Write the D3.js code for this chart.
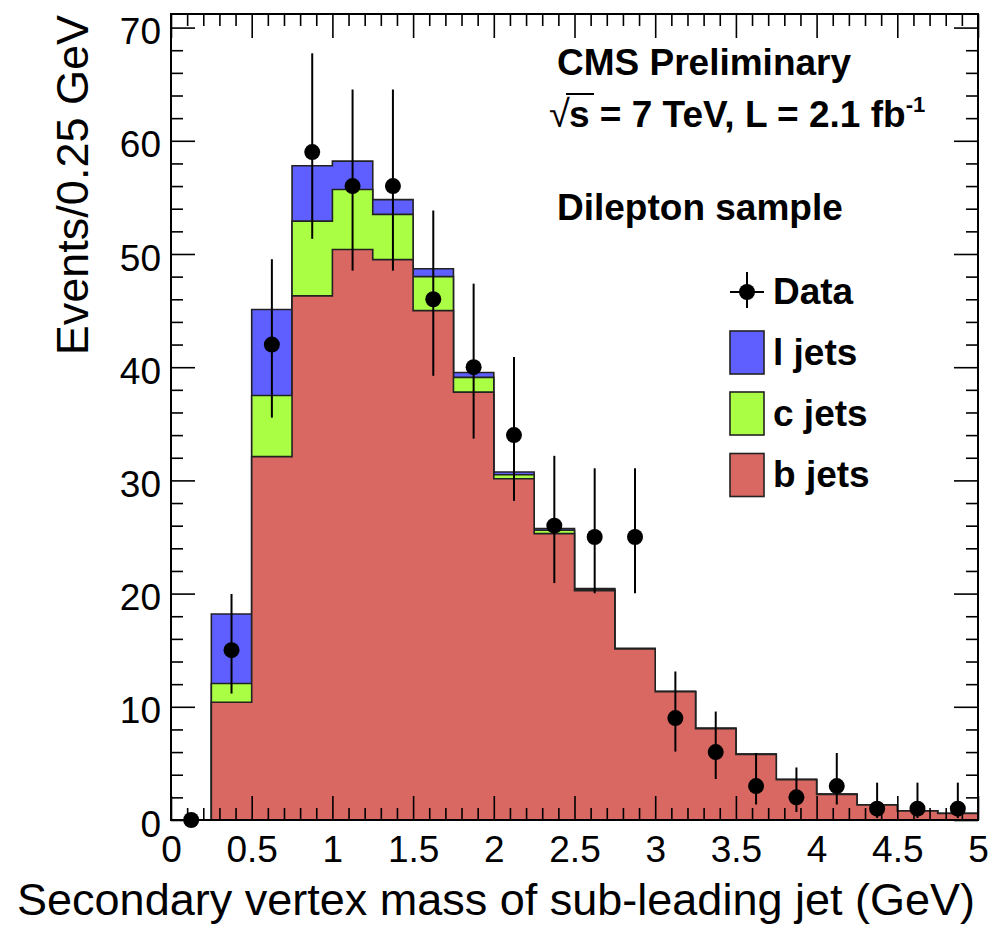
<!DOCTYPE html>
<html>
<head>
<meta charset="utf-8">
<script src="https://cdn.jsdelivr.net/npm/d3@7/dist/d3.min.js"></script>
<style>
  html, body { margin: 0; padding: 0; background: #fff; }
  svg { display: block; }
  text { font-family: "Liberation Sans", Arial, Helvetica, sans-serif; fill: #000; }
</style>
</head>
<body>
<svg id="chart" width="991" height="928"></svg>
<script>
// ---------- data ----------
const binLeftEdges = [0, 0.25, 0.5, 0.75, 1.0, 1.25, 1.5, 1.75, 2.0, 2.25,
                      2.5, 2.75, 3.0, 3.25, 3.5, 3.75, 4.0, 4.25, 4.5, 4.75];
const binWidth = 0.25;
const binCenters = [0.125, 0.375, 0.625, 0.875, 1.125, 1.375, 1.625, 1.875, 2.125, 2.375,
                    2.625, 2.875, 3.125, 3.375, 3.625, 3.875, 4.125, 4.375, 4.625, 4.875];

const bJets = [0, 10.4, 32.1, 46.3, 50.4, 49.5, 45.0, 37.8, 30.15, 25.3,
               20.25, 15.1, 11.33, 8.07, 5.8, 3.56, 2.26, 1.32, 0.8, 0.57];
const cJets = [0, 1.66, 5.4, 6.6, 5.3, 4.0, 3.0, 1.3, 0.35, 0.3,
               0.1, 0.03, 0.02, 0.02, 0.01, 0.01, 0.01, 0.01, 0.01, 0.01];
const lJets = [0, 6.14, 7.6, 4.9, 2.5, 1.3, 0.7, 0.43, 0.24, 0.14,
               0.1, 0.04, 0.03, 0.02, 0.02, 0.02, 0.02, 0.01, 0.01, 0.01];

const dataCounts = [0, 15, 42, 59, 56, 56, 46, 40, 34, 26,
                    25, 25, 9, 6, 3, 2, 3, 1, 1, 1];
const dataErrLow = [0, 11.17, 35.54, 51.34, 48.53, 48.53, 39.24, 33.69, 28.19, 20.93,
                    20.03, 20.03, 6.04, 3.62, 1.37, 0.71, 1.37, 0.17, 0.17, 0.17];
const dataErrHigh = [0, 19.97, 49.54, 67.73, 64.53, 64.53, 53.84, 47.38, 40.90, 32.17,
                     31.07, 31.07, 13.12, 9.58, 5.92, 4.64, 5.92, 3.30, 3.30, 3.30];

const xTickValues = [0, 0.5, 1, 1.5, 2, 2.5, 3, 3.5, 4, 4.5, 5];
const xTickLabels = ["0", "0.5", "1", "1.5", "2", "2.5", "3", "3.5", "4", "4.5", "5"];
const yTickValues = [0, 10, 20, 30, 40, 50, 60, 70];
const yTickLabels = ["0", "10", "20", "30", "40", "50", "60", "70"];

const legendLabels = ["Data", "l jets", "c jets", "b jets"];
const xTitle = "Secondary vertex mass of sub-leading jet (GeV)";
const yTitle = "Events/0.25 GeV";

// ---------- layout ----------
const X0 = 171, X1 = 978, Y0 = 820, YT = 14;
const colors = { l: "#5f5fff", c: "#aaff44", b: "#d96862" };
const outline = "#222";

const svg = d3.select("#chart");
const x = d3.scaleLinear().domain([0, 5]).range([X0, X1]);
const y = d3.scaleLinear().domain([0, 71.2]).range([Y0, YT]);

// stacked totals
const stackB = bJets.slice();
const stackC = bJets.map((v, i) => v + cJets[i]);
const stackL = bJets.map((v, i) => v + cJets[i] + lJets[i]);

function stepPoints(vals) {
  const pts = binLeftEdges.map((e, i) => ({ x: e, v: vals[i] }));
  pts.push({ x: binLeftEdges[binLeftEdges.length - 1] + binWidth, v: vals[vals.length - 1] });
  return pts;
}
const area = d3.area()
  .curve(d3.curveStepAfter)
  .x(d => x(d.x))
  .y0(y(0))
  .y1(d => y(d.v));

const histG = svg.append("g");
[[stackL, colors.l], [stackC, colors.c], [stackB, colors.b]].forEach(([vals, col]) => {
  histG.append("path")
    .datum(stepPoints(vals))
    .attr("d", area)
    .attr("fill", col)
    .attr("stroke", outline)
    .attr("stroke-width", 1.6)
    .attr("stroke-linejoin", "miter");
});

// ---------- axes (ticks inside the frame, on all four sides) ----------
const xMinor = d3.range(0, 51).map(i => i / 10).filter(v => !xTickValues.some(t => Math.abs(t - v) < 1e-9));
const yMinor = d3.range(0, 36).map(i => i * 2).filter(v => v % 10 !== 0 && v <= 71);

function styleAxis(g) {
  g.select(".domain").remove();
  g.selectAll(".tick line").attr("stroke", "#000").attr("stroke-width", 1.6);
  g.selectAll("text").style("font-size", "37px").attr("fill", "#000");
}

// bottom
svg.append("g").attr("transform", `translate(0,${Y0})`)
  .call(d3.axisBottom(x).tickValues(xTickValues).tickSize(-24).tickPadding(16)
    .tickFormat((d, i) => xTickLabels[i]))
  .call(styleAxis);
svg.append("g").attr("transform", `translate(0,${Y0})`)
  .call(d3.axisBottom(x).tickValues(xMinor).tickSize(-12).tickFormat(""))
  .call(styleAxis);
// top
svg.append("g").attr("transform", `translate(0,${YT})`)
  .call(d3.axisTop(x).tickValues(xTickValues).tickSize(-24).tickFormat(""))
  .call(styleAxis);
svg.append("g").attr("transform", `translate(0,${YT})`)
  .call(d3.axisTop(x).tickValues(xMinor).tickSize(-12).tickFormat(""))
  .call(styleAxis);
// left
const leftAxis = svg.append("g").attr("transform", `translate(${X0},0)`)
  .call(d3.axisLeft(y).tickValues(yTickValues).tickSize(-24).tickPadding(10)
    .tickFormat((d, i) => yTickLabels[i]))
  .call(styleAxis);
leftAxis.selectAll("text").attr("dy", "0.38em").attr("y", 2);
svg.append("g").attr("transform", `translate(${X0},0)`)
  .call(d3.axisLeft(y).tickValues(yMinor).tickSize(-12).tickFormat(""))
  .call(styleAxis);
// right
svg.append("g").attr("transform", `translate(${X1},0)`)
  .call(d3.axisRight(y).tickValues(yTickValues).tickSize(-24).tickFormat(""))
  .call(styleAxis);
svg.append("g").attr("transform", `translate(${X1},0)`)
  .call(d3.axisRight(y).tickValues(yMinor).tickSize(-12).tickFormat(""))
  .call(styleAxis);

// frame
svg.append("rect")
  .attr("x", X0).attr("y", YT).attr("width", X1 - X0).attr("height", Y0 - YT)
  .attr("fill", "none").attr("stroke", "#000").attr("stroke-width", 2);

// ---------- data points ----------
const dataG = svg.append("g");
binCenters.forEach((c, i) => {
  if (dataCounts[i] > 0) {
    dataG.append("line")
      .attr("x1", x(c)).attr("x2", x(c))
      .attr("y1", y(dataErrLow[i])).attr("y2", y(dataErrHigh[i]))
      .attr("stroke", "#000").attr("stroke-width", 2);
  }
  dataG.append("circle")
    .attr("cx", x(c)).attr("cy", y(dataCounts[i])).attr("r", 8)
    .attr("fill", "#000");
});

// ---------- axis titles ----------
svg.append("text")
  .attr("x", 975).attr("y", 915)
  .attr("text-anchor", "end")
  .style("font-size", "45px")
  .text(xTitle);
svg.append("text")
  .attr("transform", "translate(88,15) rotate(-90)")
  .attr("text-anchor", "end")
  .style("font-size", "45px")
  .text(yTitle);

// ---------- labels ----------
svg.append("text").attr("x", 557).attr("y", 75)
  .style("font-size", "37px").style("font-weight", "bold")
  .text("CMS Preliminary");

svg.append("text").attr("x", 549).attr("y", 127)
  .style("font-size", "38px")
  .text("√");
svg.append("line")
  .attr("x1", 566).attr("x2", 594).attr("y1", 94).attr("y2", 94)
  .attr("stroke", "#000").attr("stroke-width", 2);
const lum = svg.append("text").attr("x", 569).attr("y", 127)
  .style("font-size", "37px").style("font-weight", "bold");
lum.append("tspan").text("s = 7 TeV, L = 2.1 fb");
lum.append("tspan").attr("dy", -15).style("font-size", "22px").text("-1");

svg.append("text").attr("x", 557).attr("y", 220)
  .style("font-size", "37px").style("font-weight", "bold")
  .text("Dilepton sample");

// ---------- legend ----------
const leg = svg.append("g");
const legX = 730, legW = 34, legH = 43;
const legCenters = [292, 352.5, 413.5, 475];
// data entry
leg.append("line").attr("x1", legX).attr("x2", legX + legW)
  .attr("y1", legCenters[0]).attr("y2", legCenters[0])
  .attr("stroke", "#000").attr("stroke-width", 2);
leg.append("line").attr("x1", legX + legW / 2).attr("x2", legX + legW / 2)
  .attr("y1", legCenters[0] - 20).attr("y2", legCenters[0] + 16)
  .attr("stroke", "#000").attr("stroke-width", 2);
leg.append("circle").attr("cx", legX + legW / 2).attr("cy", legCenters[0]).attr("r", 8).attr("fill", "#000");
[colors.l, colors.c, colors.b].forEach((col, i) => {
  leg.append("rect")
    .attr("x", legX).attr("y", legCenters[i + 1] - legH / 2)
    .attr("width", legW).attr("height", legH)
    .attr("fill", col).attr("stroke", outline).attr("stroke-width", 1.6);
});
legendLabels.forEach((t, i) => {
  leg.append("text").attr("x", 773).attr("y", legCenters[i] + 12)
    .style("font-size", "37px").style("font-weight", "bold")
    .text(t);
});
</script>
</body>
</html>
